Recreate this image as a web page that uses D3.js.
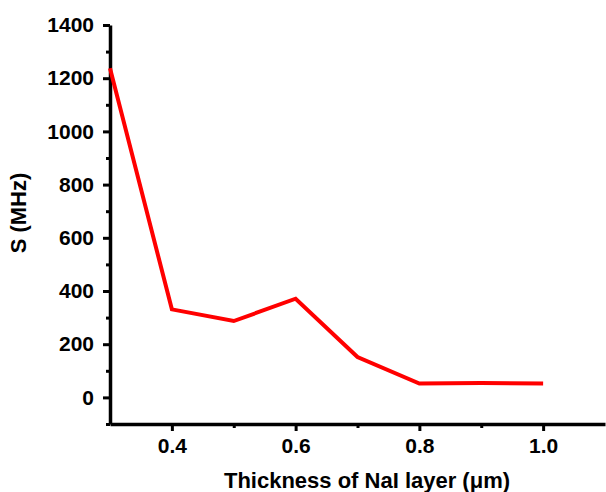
<!DOCTYPE html>
<html><head><meta charset="utf-8">
<script src="https://cdn.jsdelivr.net/npm/d3@7"></script>
<style>body{margin:0;background:#fff}svg{display:block}text{font-family:"Liberation Sans",Arial,sans-serif;font-weight:bold;fill:#000}</style>
</head><body>
<script>
const thickness = [0.3, 0.4, 0.5, 0.6, 0.7, 0.8, 0.9, 1.0];
const sValues = [1237, 331, 287, 371, 152, 52, 54, 52];
const xTickValues = [0.4, 0.6, 0.8, 1.0];
const xMinorTicks = [0.5, 0.7, 0.9];
const yTickValues = [0, 200, 400, 600, 800, 1000, 1200, 1400];
const yMinorTicks = [-100, 100, 300, 500, 700, 900, 1100, 1300];

const W = 606, H = 492;
const svg = d3.select("body").append("svg").attr("width", W).attr("height", H);
const x = d3.scaleLinear().domain([0.3, 1.1]).range([110, 605]);
const y = d3.scaleLinear().domain([-100, 1400]).range([424, 25]);

// minor ticks
svg.append("g").attr("transform", `translate(0,${y(-100)})`)
  .call(d3.axisBottom(x).tickValues(xMinorTicks).tickSize(4).tickFormat(""))
  .call(g => g.select(".domain").remove())
  .selectAll("line").attr("stroke-width", 3);
svg.append("g").attr("transform", `translate(${x(0.3)},0)`)
  .call(d3.axisLeft(y).tickValues(yMinorTicks).tickSize(4).tickFormat(""))
  .call(g => g.select(".domain").remove())
  .selectAll("line").attr("stroke-width", 3);

// major axes
const gx = svg.append("g").attr("transform", `translate(0,${y(-100)})`)
  .call(d3.axisBottom(x).tickValues(xTickValues).tickSize(7).tickSizeOuter(0).tickPadding(7).tickFormat(d3.format(".1f")));
gx.attr("font-size", 21).attr("font-family", "Liberation Sans, Arial").attr("font-weight", "bold");
gx.select(".domain").attr("stroke-width", 3.5);
gx.selectAll(".tick line").attr("stroke-width", 3);

const gy = svg.append("g").attr("transform", `translate(${x(0.3)},0)`)
  .call(d3.axisLeft(y).tickValues(yTickValues).tickSize(7).tickSizeOuter(0).tickPadding(9).tickFormat(d3.format("d")));
gy.attr("font-size", 21).attr("font-family", "Liberation Sans, Arial").attr("font-weight", "bold");
gy.select(".domain").attr("stroke-width", 3.5);
gy.selectAll(".tick line").attr("stroke-width", 3);

// line
const line = d3.line().x((d, i) => x(thickness[i])).y(d => y(d));
svg.append("path").datum(sValues).attr("d", line)
  .attr("fill", "none").attr("stroke", "#ff0000").attr("stroke-width", 4).attr("stroke-linejoin", "miter");

// titles
svg.append("text").attr("x", 367).attr("y", 488).attr("text-anchor", "middle").attr("font-size", 22)
  .text("Thickness of NaI layer (μm)");
svg.append("text").attr("transform", "translate(26,213) rotate(-90)").attr("text-anchor", "middle").attr("font-size", 22)
  .text("S (MHz)");
</script>
</body></html>
